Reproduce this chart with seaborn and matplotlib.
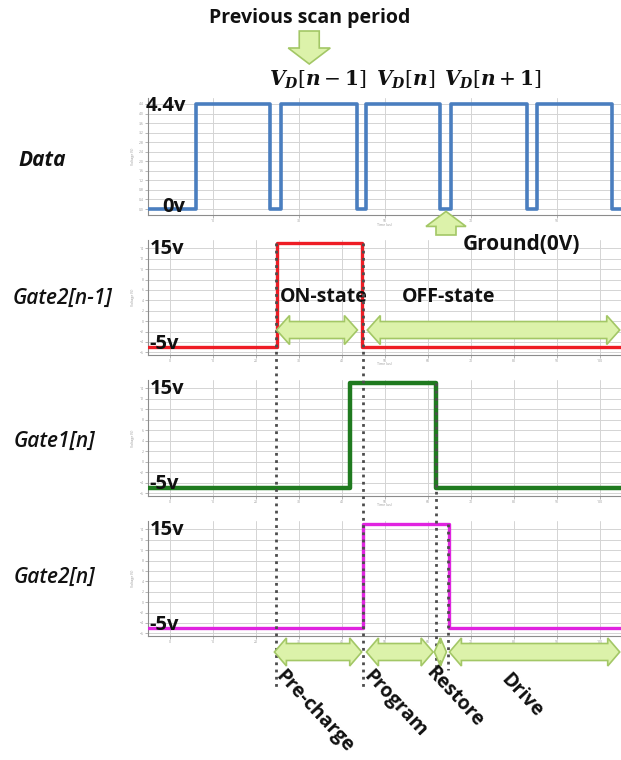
import numpy as np
import pandas as pd
import matplotlib.pyplot as plt
import matplotlib.ticker as mticker
from matplotlib.patches import Polygon
import seaborn as sns

# ---- waveform data (time in us, level in V) ----
data_t = [-5, 6.2, 23.3, 25.9, 43.6, 45.7, 63.0, 65.5, 83.1, 85.4, 103.0, 106]
data_v = [0, 4.4, 0, 4.4, 0, 4.4, 0, 4.4, 0, 4.4, 0, 0]

gate2_prev_t = [-5, 24.9, 44.8, 106]
gate2_prev_v = [-5, 15, -5, -5]

gate1_t = [-5, 42.0, 61.9, 106]
gate1_v = [-5, 15, -5, -5]

gate2_t = [-5, 44.9, 64.9, 106]
gate2_v = [-5, 15, -5, -5]

panel_names = ['Data', 'Gate2[n-1]', 'Gate1[n]', 'Gate2[n]']
vd_labels = [r'$\mathbfit{V}_{\mathbfit{D}}[\mathbfit{n}-\mathbf{1}]$',
             r'$\mathbfit{V}_{\mathbfit{D}}[\mathbfit{n}]$',
             r'$\mathbfit{V}_{\mathbfit{D}}[\mathbfit{n}+\mathbf{1}]$']
vd_centers = [34.5, 55.0, 75.2]

# phase boundaries and names
bounds = [24.7, 44.9, 61.9, 64.7]
phases = ['Pre-charge', 'Program', 'Restore', 'Drive']
phase_spans = [(24.4, 44.7), (45.8, 61.3), (61.6, 64.4), (65.1, 104.7)]
state_spans = [(24.9, 43.7), (46.0, 104.7)]

sns.set_style('white')
plt.rcParams['font.family'] = ['Open Sans', 'DejaVu Sans']
plt.rcParams['mathtext.fontset'] = 'dejavuserif'

W, H = 621, 760
fig = plt.figure(figsize=(W / 100, H / 100), dpi=100)


def add_panel(top, bot):
    return fig.add_axes([148 / W, 1 - bot / H, (W - 148) / W, (bot - top) / H])


ax_d = add_panel(98, 215)
ax_p = add_panel(240, 355)
ax_1 = add_panel(380, 496)
ax_2 = add_panel(521, 636)
axes = [ax_d, ax_p, ax_1, ax_2]

series = [(data_t, data_v, '#4a7ebf', 2.6),
          (gate2_prev_t, gate2_prev_v, '#ee1c24', 2.4),
          (gate1_t, gate1_v, '#1f7a1f', 3.2),
          (gate2_t, gate2_v, '#e024e0', 2.4)]

for ax, (t, v, c, lw) in zip(axes, series):
    df = pd.DataFrame({'t': t, 'v': v})
    sns.lineplot(data=df, x='t', y='v', ax=ax, color=c, lw=lw,
                 drawstyle='steps-post', estimator=None, sort=False, zorder=3)
    ax.set_xlim(-5, 105)
    ax.set_xlabel('')
    ax.set_ylabel('')
    ax.grid(True, color='#d4d4d4', lw=0.7)
    ax.tick_params(labelsize=2.5, colors='#999999', length=2, width=0.5,
                   direction='out', pad=1, left=True, bottom=True)
    for s in ['top', 'right']:
        ax.spines[s].set_visible(False)
    for s in ['left', 'bottom']:
        ax.spines[s].set_color('#8c8c8c')
        ax.spines[s].set_linewidth(0.8)
    ax.text(0.5, -0.09, 'Time (us)', transform=ax.transAxes, fontsize=2.5,
            color='#999999', ha='center')
    ax.text(-0.035, 0.5, 'Voltage (V)', transform=ax.transAxes, fontsize=2.5,
            color='#999999', va='center', rotation=90)

ax_d.set_ylim(-0.25, 4.65)
ax_d.yaxis.set_major_locator(mticker.MultipleLocator(0.4))
ax_d.xaxis.set_major_locator(mticker.MultipleLocator(20, offset=10))
for ax in axes[1:]:
    ax.set_ylim(-6.5, 15.6)
    ax.yaxis.set_major_locator(mticker.MultipleLocator(2))
    ax.xaxis.set_major_locator(mticker.MultipleLocator(10))

# level labels
lab_kw = dict(fontsize=14.5, fontweight='bold', color='#111111', zorder=5)
ax_d.text(-5.6, 4.3, '4.4v', ha='left', va='center', **lab_kw)
ax_d.text(-1.6, 0.1, '0v', ha='left', va='center', **lab_kw)
for ax in axes[1:]:
    ax.text(-4.6, 13.8, '15v', ha='left', va='center', **lab_kw)
    ax.text(-4.6, -4.3, '-5v', ha='left', va='center', **lab_kw)

# overlay in pixel space for annotations
ov = fig.add_axes([0, 0, 1, 1])
ov.set_xlim(0, W)
ov.set_ylim(H, 0)
ov.axis('off')


def to_px(ax, t, v):
    return ov.transData.inverted().transform(ax.transData.transform((t, v)))


fill_c, edge_c = '#dcf2aa', '#a3c766'


def harrow(x0, x1, yc, hh=14.5, sh=8.5, hl=13):
    hl = min(hl, (x1 - x0) / 2)
    pts = [(x0, yc), (x0 + hl, yc - hh), (x0 + hl, yc - sh), (x1 - hl, yc - sh),
           (x1 - hl, yc - hh), (x1, yc), (x1 - hl, yc + hh), (x1 - hl, yc + sh),
           (x0 + hl, yc + sh), (x0 + hl, yc + hh)]
    ov.add_patch(Polygon(pts, closed=True, fc=fill_c, ec=edge_c, lw=1.2, zorder=4))


def varrow(xc, y_tail, y_tip, hw=21, sw=10, hl=16):
    d = 1 if y_tip > y_tail else -1
    yb = y_tip - d * hl
    pts = [(xc - sw, y_tail), (xc + sw, y_tail), (xc + sw, yb), (xc + hw, yb),
           (xc, y_tip), (xc - hw, yb), (xc - sw, yb)]
    ov.add_patch(Polygon(pts, closed=True, fc=fill_c, ec=edge_c, lw=1.2, zorder=4))


# dotted phase boundaries
tops = [(ax_p, 15), (ax_p, 15), (ax_1, 15), (ax_2, 15)]
bottoms = [688, 688, 670, 670]
for t, (ax, v), yb in zip(bounds, tops, bottoms):
    x, yt = to_px(ax, t, v)
    ov.plot([x, x], [yt, yb], color='#4d4d4d', lw=2, ls=(0, (1, 1.6)), zorder=2)

# state arrows on Gate2[n-1]
for (a, b) in state_spans:
    x0, yc = to_px(ax_p, a, -1.7)
    x1, _ = to_px(ax_p, b, -1.7)
    harrow(x0, x1, yc)
txt_kw = dict(fontsize=14, fontweight='bold', color='#111111', zorder=6)
ax_p.text(35.8, 4.6, 'ON-state', ha='center', va='center', **txt_kw)
ax_p.text(65, 4.6, 'OFF-state', ha='center', va='center', **txt_kw)

# phase arrows below bottom panel
for (a, b) in phase_spans:
    x0, _ = to_px(ax_2, a, 0)
    x1, _ = to_px(ax_2, b, 0)
    harrow(x0, x1, 652, hh=14, sh=8.5, hl=12)

phase_anchor = [(27.0, 666), (47.5, 666), (62.0, 663), (79.5, 670)]
for name, (t, y) in zip(phases, phase_anchor):
    x, _ = to_px(ax_2, t, 0)
    ov.text(x, y, name, rotation=-47, rotation_mode='anchor', ha='left',
            va='top', **txt_kw)

# top annotations
ov.text(310, 18, 'Previous scan period', ha='center', va='center', **txt_kw)
xa, _ = to_px(ax_d, 32.5, 0)
varrow(xa, 31, 64)
for lab, t in zip(vd_labels, vd_centers):
    x, _ = to_px(ax_d, t, 0)
    ov.text(x, 80, lab, ha='center', va='center', fontsize=14.5, color='#111111')

xg, yg = to_px(ax_d, 64.3, -0.1)
varrow(xg, 235, yg, hw=20, sw=10, hl=15)
ov.text(522, 245, 'Ground(0V)', ha='center', va='center', fontsize=15,
        fontweight='bold', color='#111111', zorder=6)

# panel names
name_pos = [(18, 160), (13, 298), (14, 441), (14, 577)]
for name, (x, y) in zip(panel_names, name_pos):
    ov.text(x, y, name, ha='left', va='center', fontsize=15, fontstyle='italic',
            fontweight='bold' if name == 'Data' else 'semibold',
            color='#111111')

fig.savefig('out.png', dpi=100)
